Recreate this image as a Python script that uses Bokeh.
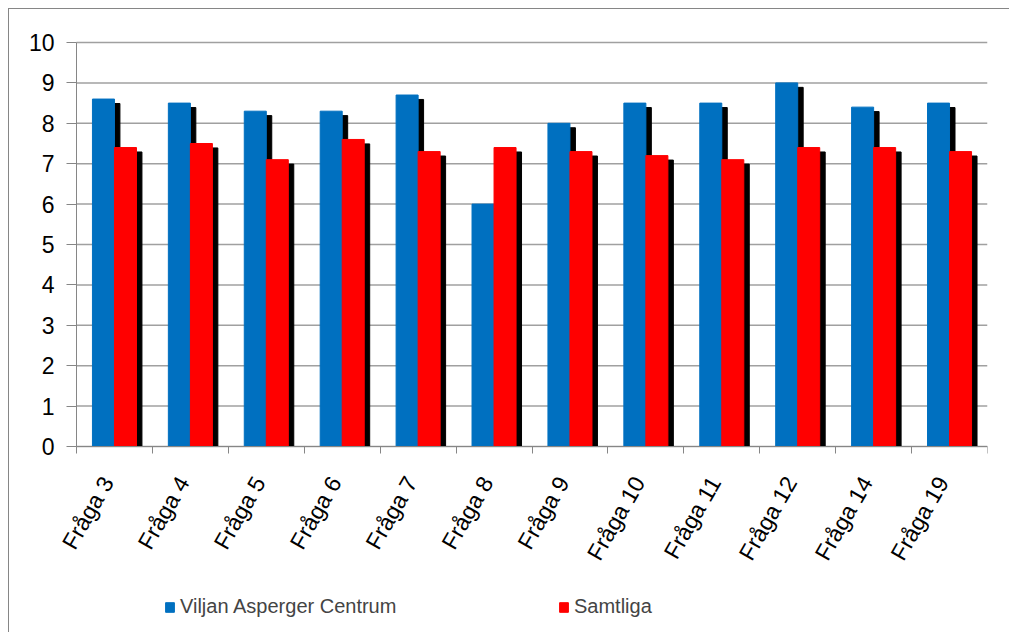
import numpy as np
from bokeh.plotting import figure
from bokeh.models import FixedTicker, Legend, LegendItem, Range1d
from bokeh.embed import file_html
from bokeh.resources import INLINE

categories = ["Fråga 3", "Fråga 4", "Fråga 5", "Fråga 6", "Fråga 7", "Fråga 8",
              "Fråga 9", "Fråga 10", "Fråga 11", "Fråga 12", "Fråga 14", "Fråga 19"]
viljan = [8.6, 8.5, 8.3, 8.3, 8.7, 6.0, 8.0, 8.5, 8.5, 9.0, 8.4, 8.5]
samtliga = [7.4, 7.5, 7.1, 7.6, 7.3, 7.4, 7.3, 7.2, 7.1, 7.4, 7.4, 7.3]
series_names = ["Viljan Asperger Centrum", "Samtliga"]
colors = ["#0070C0", "#FF0000"]
y_ticks = list(range(0, 11))

n = len(categories)
centers = np.arange(n) + 0.5
bw = 0.29
sdx = 0.072  # shadow offset x (data units)
sdy = 0.11   # shadow offset y (data units)

# the frame covers the whole chart area so that the axis labels and legend fit inside
px_per_x = 911 / n
px_per_y = 40.4
x_low = -(76 - 9) / px_per_x
y_low = -(632 - 446) / px_per_y
y_high = 10 + (42 - 9) / px_per_y

p = figure(frame_width=978, frame_height=623, output_backend="svg", toolbar_location=None,
           x_range=Range1d(x_low, n), y_range=Range1d(y_low, y_high),
           min_border_left=0, min_border_right=22, min_border_top=0, min_border_bottom=0)
p.styles = {"margin-left": "8px", "margin-top": "8px",
            "border-left": "1px solid #868686", "border-top": "1px solid #868686"}
p.outline_line_color = None
p.background_fill_color = "white"

# horizontal grid lines over the value area only
p.xgrid.visible = False
p.ygrid.visible = False
p.segment(x0=[0] * len(y_ticks), x1=[n] * len(y_ticks), y0=y_ticks, y1=y_ticks,
          line_color="#a0a0a0", line_width=1.5, level="underlay")

xb = centers - bw / 2
xr = centers + bw / 2
vb = np.array(viljan)
vr = np.array(samtliga)

# shadows
p.vbar(x=xb + sdx, top=vb - sdy, bottom=0, width=bw, color="black")
p.vbar(x=xr + sdx, top=vr - sdy, bottom=0, width=bw, color="black")
rb = p.vbar(x=xb, top=vb, bottom=0, width=bw, color=colors[0])
rr = p.vbar(x=xr, top=vr, bottom=0, width=bw, color=colors[1])

font = "Liberation Sans"
# y axis at category position 0
p.yaxis.fixed_location = 0
p.yaxis.ticker = FixedTicker(ticks=y_ticks)
p.yaxis.bounds = (0, 10)
p.yaxis.major_tick_out = 10
p.yaxis.major_tick_in = 0
p.yaxis.minor_tick_line_color = None
p.yaxis.axis_line_color = "#868686"
p.yaxis.major_tick_line_color = "#868686"
p.yaxis.major_label_text_font = font
p.yaxis.major_label_text_font_size = "23px"
p.yaxis.major_label_text_color = "black"
p.yaxis.major_label_standoff = 12

# x axis at value 0
label_pos = [float(c - 0.09) for c in centers]
p.xaxis.fixed_location = 0
p.xaxis.bounds = (0, n)
p.xaxis.ticker = FixedTicker(ticks=label_pos, minor_ticks=list(range(0, n + 1)))
p.xaxis.major_label_overrides = {pos: lab for pos, lab in zip(label_pos, categories)}
p.xaxis.major_tick_line_color = None
p.xaxis.minor_tick_line_color = "#868686"
p.xaxis.minor_tick_out = 7
p.xaxis.minor_tick_in = 0
p.xaxis.axis_line_color = "#868686"
p.xaxis.major_label_orientation = np.pi / 3
p.xaxis.major_label_text_font = font
p.xaxis.major_label_text_font_size = "23px"
p.xaxis.major_label_text_color = "black"
p.xaxis.major_label_standoff = 25

lg = Legend(items=[LegendItem(label=series_names[0], renderers=[rb]),
                   LegendItem(label=series_names[1], renderers=[rr])],
            location=(155, 14), orientation="horizontal",
            glyph_width=11, glyph_height=12, label_standoff=5, label_width=372,
            label_text_font=font, label_text_font_size="20px",
            padding=0, margin=0, border_line_color=None,
            background_fill_alpha=0, spacing=6)
p.add_layout(lg, "center")

open("out.html", "w").write(file_html(p, INLINE))
